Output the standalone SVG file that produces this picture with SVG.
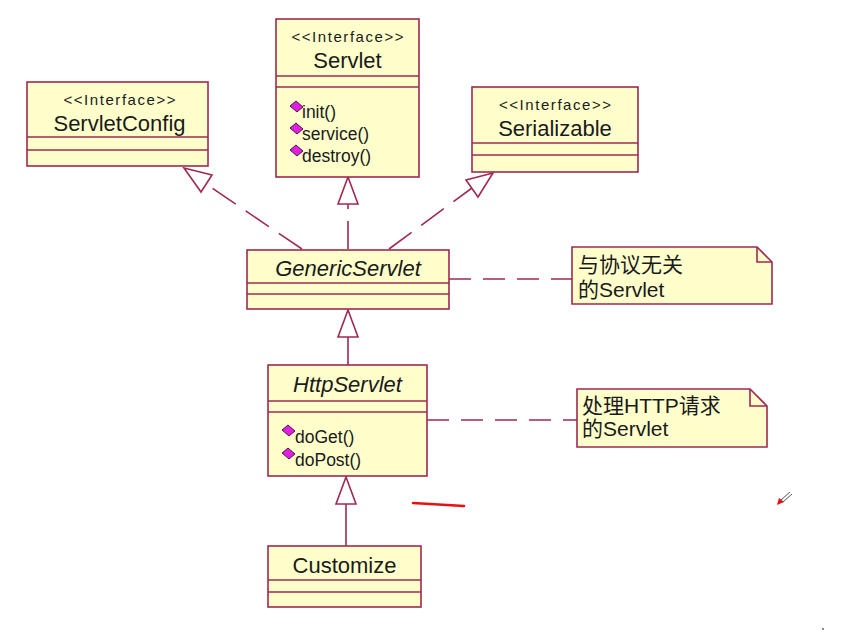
<svg xmlns="http://www.w3.org/2000/svg" width="856" height="630" viewBox="0 0 856 630">
<style>
.box{fill:#FFFFCC;stroke:#9E2A52;stroke-width:1.6}
.ln{stroke:#9E2A52;stroke-width:1.6;fill:none}
.dash{stroke:#9E2A52;stroke-width:1.6;fill:none;stroke-dasharray:28 12}
.ndash{stroke:#9E2A52;stroke-width:1.6;fill:none;stroke-dasharray:22 12}
.tri{fill:#fff;stroke:#9E2A52;stroke-width:1.6}
.st{font-family:"Liberation Sans",Arial,sans-serif;font-size:15px;fill:#1a1a1a;text-anchor:middle}
.nm{font-family:"Liberation Sans",Arial,sans-serif;font-size:22px;fill:#1a1a1a;text-anchor:middle}
.it{font-style:italic}
.mb{font-family:"Liberation Sans",Arial,sans-serif;font-size:17.5px;fill:#1a1a1a}
.nt{font-family:"Liberation Sans","Noto Sans CJK SC",sans-serif;font-size:21px;fill:#1a1a1a}
.dia{fill:#E020E0;stroke:#3a0a3a;stroke-width:0.9}
</style>
<rect width="856" height="630" fill="#fff"/>
<g id="connectors">
  <line class="dash" x1="302" y1="249" x2="206" y2="184"/>
  <polygon class="tri" points="184,168 212,175 201,192"/>
  <line class="dash" x1="389" y1="249" x2="472" y2="188"/>
  <polygon class="tri" points="493,173 466,180 478,197"/>
  <line class="dash" x1="348" y1="249" x2="348" y2="204"/>
  <polygon class="tri" points="348,177 338,204 358,204"/>
  <line class="ln" x1="348" y1="365" x2="348" y2="337"/>
  <polygon class="tri" points="348,310 338,337 358,337"/>
  <line class="ln" x1="346" y1="546" x2="346" y2="504"/>
  <polygon class="tri" points="346,477 336,504 356,504"/>
  <line class="ndash" x1="449" y1="279" x2="572" y2="279"/>
  <line class="ndash" x1="427" y1="420" x2="577" y2="420"/>
</g>
<g id="Servlet">
  <rect class="box" x="276" y="19" width="143" height="158"/>
  <line class="ln" x1="276" y1="76" x2="419" y2="76"/>
  <line class="ln" x1="276" y1="87" x2="419" y2="87"/>
  <text class="st" x="347.5" y="42" textLength="112" lengthAdjust="spacing">&lt;&lt;Interface&gt;&gt;</text>
  <text class="nm" x="347.5" y="68">Servlet</text>
  <polygon class="dia" points="290,106 296,101 303,107 297,112"/>
  <text class="mb" x="302" y="118">init()</text>
  <polygon class="dia" points="290,128 296,123 303,129 297,134"/>
  <text class="mb" x="302" y="140">service()</text>
  <polygon class="dia" points="290,150 296,145 303,151 297,156"/>
  <text class="mb" x="302" y="162">destroy()</text>
</g>
<g id="ServletConfig">
  <rect class="box" x="27" y="82" width="181" height="84"/>
  <line class="ln" x1="27" y1="137" x2="208" y2="137"/>
  <line class="ln" x1="27" y1="150" x2="208" y2="150"/>
  <text class="st" x="119.5" y="105" textLength="112" lengthAdjust="spacing">&lt;&lt;Interface&gt;&gt;</text>
  <text class="nm" x="119.5" y="131">ServletConfig</text>
</g>
<g id="Serializable">
  <rect class="box" x="472" y="87" width="166" height="85"/>
  <line class="ln" x1="472" y1="143" x2="638" y2="143"/>
  <line class="ln" x1="472" y1="155" x2="638" y2="155"/>
  <text class="st" x="555" y="110" textLength="112" lengthAdjust="spacing">&lt;&lt;Interface&gt;&gt;</text>
  <text class="nm" x="555" y="136">Serializable</text>
</g>
<g id="GenericServlet">
  <rect class="box" x="247" y="250" width="202" height="59"/>
  <line class="ln" x1="247" y1="283" x2="449" y2="283"/>
  <line class="ln" x1="247" y1="294" x2="449" y2="294"/>
  <text class="nm it" x="348" y="276">GenericServlet</text>
</g>
<g id="note1">
  <path class="box" d="M572,247 H757 L772,262 V304 H572 Z"/>
  <path class="ln" d="M757,247 V262 H772"/>
  <text class="nt" x="578" y="272">与协议无关</text>
  <text class="nt" x="578" y="297">的Servlet</text>
</g>
<g id="HttpServlet">
  <rect class="box" x="268" y="365" width="159" height="111"/>
  <line class="ln" x1="268" y1="401" x2="427" y2="401"/>
  <line class="ln" x1="268" y1="412" x2="427" y2="412"/>
  <text class="nm it" x="347.5" y="392">HttpServlet</text>
  <polygon class="dia" points="282,430 288,425 295,431 289,436"/>
  <text class="mb" x="295" y="443">doGet()</text>
  <polygon class="dia" points="282,453 288,448 295,454 289,459"/>
  <text class="mb" x="295" y="466">doPost()</text>
</g>
<g id="note2">
  <path class="box" d="M577,389 H750 L767,406 V447 H577 Z"/>
  <path class="ln" d="M750,389 V406 H767"/>
  <text class="nt" x="582" y="413">处理HTTP请求</text>
  <text class="nt" x="582" y="436">的Servlet</text>
</g>
<g id="Customize">
  <rect class="box" x="268" y="546" width="153" height="61"/>
  <line class="ln" x1="268" y1="580" x2="421" y2="580"/>
  <line class="ln" x1="268" y1="592" x2="421" y2="592"/>
  <text class="nm" x="344.5" y="573">Customize</text>
</g>
<g id="marks">
  <line x1="413" y1="503" x2="464" y2="506" stroke="#E81010" stroke-width="2.5" stroke-linecap="round"/>
  <line x1="781" y1="500" x2="790" y2="492" stroke="#555" stroke-width="1"/>
  <line x1="783" y1="502" x2="792" y2="494" stroke="#555" stroke-width="1"/>
  <polygon points="777,505 779,498 784,502" fill="#E81010"/>
  <rect x="822" y="628" width="2" height="2" fill="#888"/>
</g>
</svg>
